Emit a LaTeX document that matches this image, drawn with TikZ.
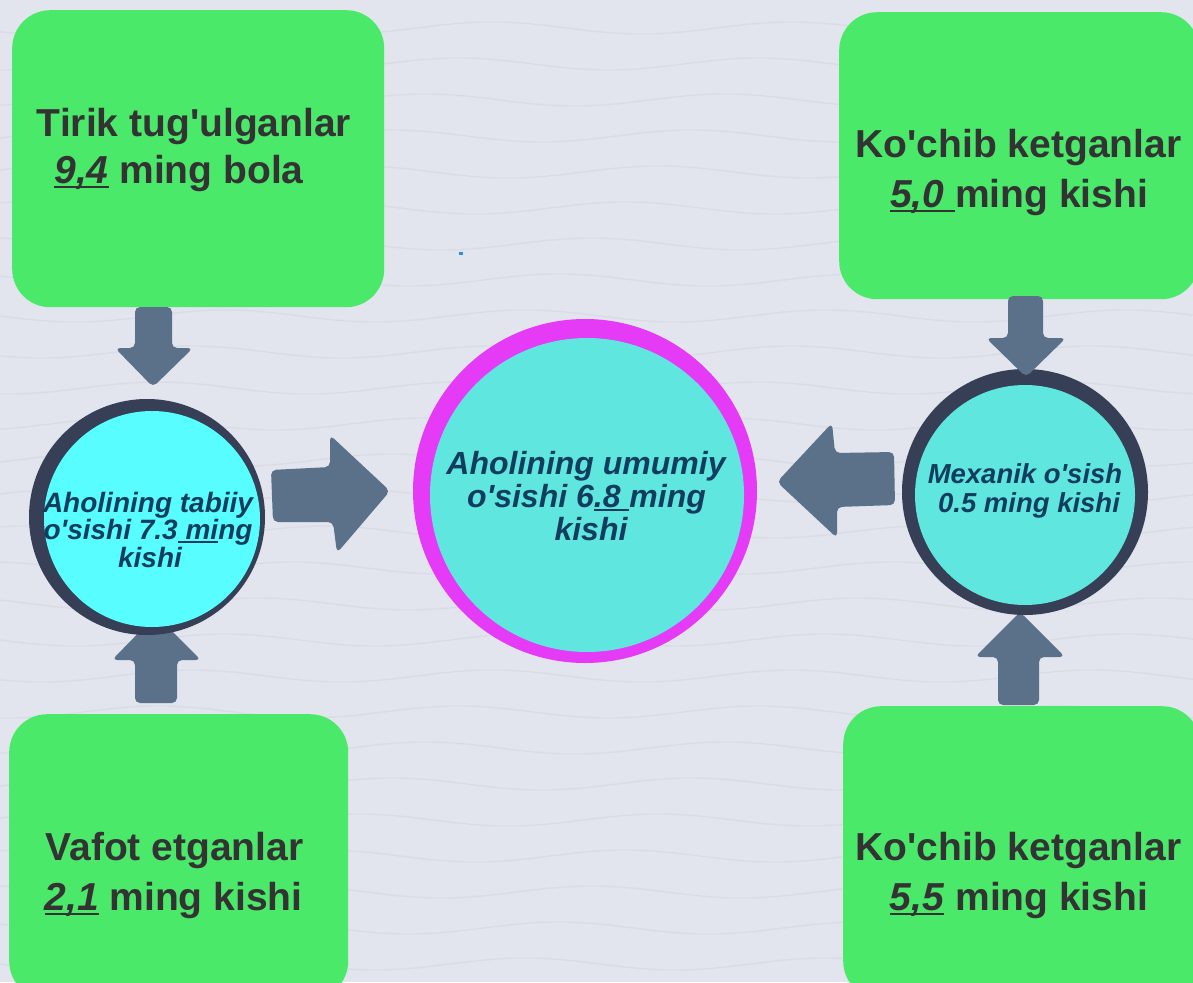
\documentclass[tikz,border=0pt]{standalone}
\usepackage{fontspec}
\setmainfont{Liberation Sans}
\definecolor{bgc}{HTML}{E2E4EE}
\definecolor{wavec}{HTML}{D9DBE5}
\definecolor{boxgreen}{HTML}{4BE96A}
\definecolor{txtdark}{HTML}{333333}
\definecolor{arrowblue}{HTML}{5B7189}
\definecolor{ringdark}{HTML}{363F56}
\definecolor{cyanL}{HTML}{58FEFF}
\definecolor{cyanM}{HTML}{5FE6DF}
\definecolor{magentac}{HTML}{E53AF6}
\definecolor{circtxt}{HTML}{123D5E}
\definecolor{dotblue}{HTML}{2E8FE0}
\newcommand\ap{\textquotesingle}
\newcommand\ulx[1]{\setbox0=\hbox{#1}\rlap{\rule[-0.13em]{\wd0}{0.065em}}\box0\relax}
\begin{document}
\begin{tikzpicture}[x=1pt,y=-1pt,
  box/.style={fill=boxgreen, rounded corners=38pt, inner sep=0pt, anchor=north west},
  boxtxt/.style={text=txtdark, font=\fontsize{39}{49}\selectfont\bfseries, anchor=base, inner sep=0pt},
  ctxtS/.style={text=circtxt, font=\fontsize{28}{30}\selectfont\bfseries\itshape, anchor=base, inner sep=0pt},
  ctxtR/.style={text=circtxt, font=\fontsize{27.5}{30}\selectfont\bfseries\itshape, anchor=base, inner sep=0pt},
  ctxtL/.style={text=circtxt, font=\fontsize{32}{35}\selectfont\bfseries\itshape, anchor=base, inner sep=0pt},
  blockarrow/.style={fill=arrowblue, rounded corners=5pt},
  disc/.style={circle, inner sep=0pt, draw=none},
  wave/.style={draw=wavec, line width=1.3pt}]
\useasboundingbox (0,0) rectangle (1193,982);
\clip (0,0) rectangle (1193,982);
\fill[bgc] (0,0) rectangle (1193,982);
\foreach \k in {0,...,28} {
  \draw[wave] plot[domain=-20:1213, samples=60, smooth] (\x, {\k*36 - 8 + 6*sin(\x*1.2 + \k*40)});
}
% arrows hidden under circles
\fill[blockarrow] (135,703) -- (177,703) -- (177,660) -- (201,660) -- (156,615) -- (112,660) -- (135,660) -- cycle;
\fill[blockarrow] (998,705) -- (1039,705) -- (1039,657) -- (1065,657) -- (1020,612) -- (975,657) -- (998,657) -- cycle;
% boxes
\node[box, minimum width=372pt, minimum height=297pt] (tl) at (12,10) {};
\node[box, minimum width=360pt, minimum height=287pt] (tr) at (839,12) {};
\node[box, minimum width=339pt, minimum height=285pt] (bl) at (9,714) {};
\node[box, minimum width=357pt, minimum height=293pt] (br) at (843,706) {};
% circles
\node[disc, fill=ringdark, minimum size=236pt] (lring) at (147,517) {};
\node[disc, fill=cyanL, minimum size=216pt] (lcirc) at (152,519) {};
\node[disc, fill=magentac, minimum size=344pt] (cring) at (585,491) {};
\node[disc, fill=cyanM, minimum size=314pt] (ccirc) at (587,495) {};
\node[disc, fill=ringdark, minimum size=246pt] (rring) at (1025,492) {};
\node[disc, fill=cyanM, minimum size=220pt] (rcirc) at (1025,495) {};
% arrows on top
\fill[blockarrow] (271,470) -- (330,467) -- (330,435) -- (390,491) -- (337,553) -- (333,522) -- (273,522) -- cycle;
\fill[blockarrow] (777,482) -- (832,423) -- (835,453) -- (894,452) -- (895,505) -- (837,507) -- (837,538) -- cycle;
\fill[blockarrow] (135,307) -- (172,307) -- (172,348) -- (193,348) -- (153,387) -- (115,348) -- (135,348) -- cycle;
\fill[blockarrow] (1008,296) -- (1043,296) -- (1043,338) -- (1066,338) -- (1026,377) -- (986,338) -- (1008,338) -- cycle;
% small mark
\fill[dotblue] (459,252) rectangle (463,254.5);
% box texts
\node[boxtxt] (tl1) at (194,136) {Tirik tug\ap ulganlar};
\node[boxtxt] (tl2) at (179,183) {\ulx{\textit{9,4}} ming bola};
\node[boxtxt] (tr1) at (1018.5,157) {Ko\ap chib ketganlar};
\node[boxtxt] (tr2) at (1019,207) {\ulx{\textit{5,0}\ }ming kishi};
\node[boxtxt] (bl1) at (174.5,860) {Vafot etganlar};
\node[boxtxt] (bl2) at (173.5,910) {\ulx{\textit{2,1}} ming kishi};
\node[boxtxt] (br1) at (1018.5,860) {Ko\ap chib ketganlar};
\node[boxtxt] (br2) at (1019,910) {\ulx{\textit{5,5}} ming kishi};
% circle texts
\node[ctxtS] (lt1) at (148,512) {Aholining tabiiy};
\node[ctxtS] (lt2) at (148,539) {o\ap sishi 7.3\ulx{\ mi}ng};
\node[ctxtS] (lt3) at (150,567) {kishi};
\node[ctxtL] (ct1) at (586,474) {Aholining umumiy};
\node[ctxtL] (ct2) at (586.5,507) {o\ap sishi 6\ulx{.8\ }ming};
\node[ctxtL] (ct3) at (591,540) {kishi};
\node[ctxtR] (rt1) at (1025,483) {Mexanik o\ap sish};
\node[ctxtR] (rt2) at (1029,512) {0.5 ming kishi};
\end{tikzpicture}
\end{document}
